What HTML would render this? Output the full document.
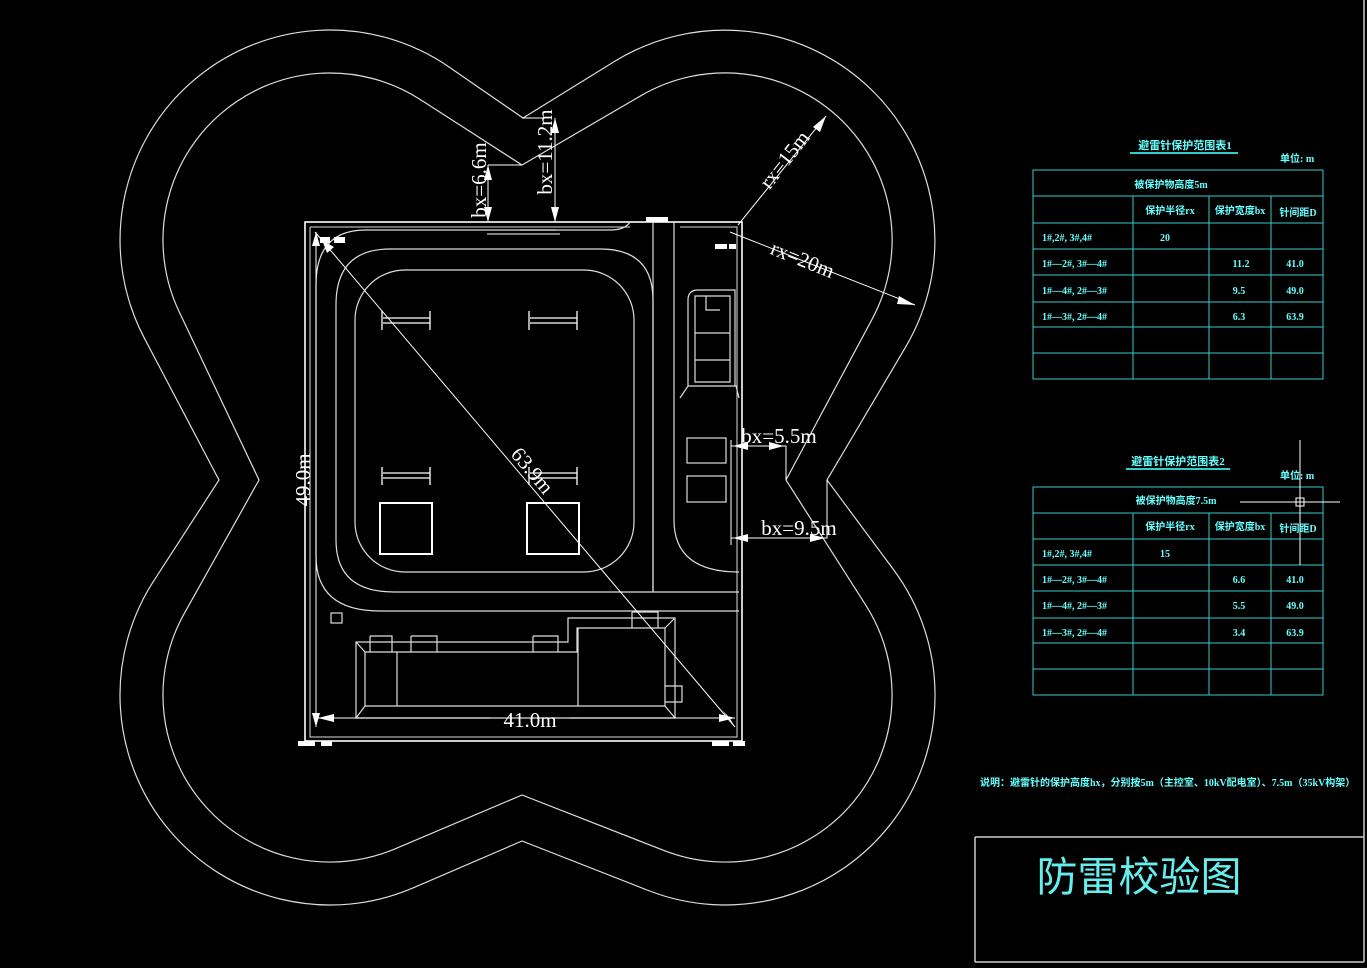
<!DOCTYPE html>
<html><head><meta charset="utf-8">
<style>
html,body{margin:0;padding:0;background:#000;}
body{width:1367px;height:968px;overflow:hidden;position:relative;}
svg{position:absolute;left:0;top:0;}
.d{font-family:"Liberation Serif",serif;fill:#fff;font-size:21px;}
.c{font-family:"Liberation Serif","Noto Sans CJK SC",sans-serif;fill:#6ff;font-size:10px;font-weight:bold;}
</style></head><body>
<svg width="1367" height="968" viewBox="0 0 1367 968" xmlns="http://www.w3.org/2000/svg">
<g fill="none" stroke="#ddd" stroke-width="1.2">
<path id="outer"/><path id="inner"/>
<!-- fence -->
<rect x="305" y="222" width="437" height="519" stroke="#fff" stroke-width="1.6"/>
<path d="M310 227 H630 M680 227 H737 V737 H310 V227" stroke-width="1"/>
<!-- roads -->
<path d="M630 222 Q625 230 610 230 L366 230 Q316 230 316 285 L316 556 Q316 611 380 611 L739 611"/>
<path d="M653 592 L653 300 Q653 249 600 249 L390 249 Q336 249 336 305 L336 540 Q336 592 394 592 L739 592"/>
<rect x="355" y="270" width="279" height="302" rx="50"/>
<path d="M653 222 V592 M674 222 V520 Q674 572 739 572"/>
<!-- bus frames -->
<g stroke="#fff" stroke-width="1.3">
<path d="M382 311 V330 M430 311 V330 M383 318 H430 M383 323 H430"/>
<path d="M529 311 V330 M577 311 V330 M530 318 H577 M530 323 H577"/>
<path d="M382 467 V485 M430 467 V485 M383 473 H430 M383 478 H430"/>
<path d="M529 467 V485 M577 467 V485 M530 473 H577 M530 478 H577"/>
<rect x="380" y="503" width="52" height="51" stroke-width="2"/>
<rect x="527" y="503" width="52" height="51" stroke-width="2"/>
</g>
<rect x="331" y="613" width="11" height="10"/>
<!-- building -->
<path d="M356 642 L568 642 L568 618 L675 618 L675 718 L356 718 Z"/>
<path d="M365 652 L577 652 L577 628 L665 628 L665 706 L365 706 Z"/>
<path d="M356 642 L365 652 M675 618 L665 628 M675 718 L665 706 M356 718 L365 706 M397 652 V706 M578 628 V706"/>
<path d="M370 636 H392 V652 M370 636 V652 M411 636 H437 V652 M411 636 V652 M533 636 H558 V652 M533 636 V652 M632 612 H658 V628 M632 612 V628 M665 686 H682 V702 H665"/>
<!-- control building -->
<path d="M680 398 L688 386 L736 386 L739 398 M688 386 V300 Q688 290 698 290 L735 290 V386 M695 296 H730 V382 H695 Z M695 333 H730 M695 360 H730 M706 296 V310 H720"/>
<rect x="687" y="438" width="39" height="25"/>
<rect x="687" y="476" width="39" height="26"/>
<!-- dimension lines -->
<g stroke="#fff" stroke-width="1">
<path d="M315 232 L735 727"/>
<path d="M316 232 V727 M316 718 H490 M570 718 H735"/>
<path d="M488 165 V222 M488 165 H522 M555 118 V222 M545 118 H522"/>
<path d="M738 225 L826 116 M730 232 L915 305"/>
<path d="M731 446 H786 V480 M731 538 H827 V480 M731 440 V545"/>
<path d="M487 234 H560 M520 230 H556"/>
</g>
</g>
<!-- arrowheads -->
<g fill="#fff">
<polygon points="316,232 312,246 320,246"/><polygon points="316,727 312,713 320,713"/>
<polygon points="318,718 334,714 334,722"/><polygon points="735,718 719,714 719,722"/>
<polygon points="735,727 722,710 729,717"/>
<polygon points="322,240 327,253 334,247"/>
<polygon points="488,165 484,180 492,180"/><polygon points="488,222 484,207 492,207"/>
<polygon points="555,118 551,133 559,133"/><polygon points="555,222 551,207 559,207"/>
<polygon points="826,116 813,127 820,132"/>
<polygon points="915,305 899,296 897,304"/>
<polygon points="733,446 748,442 748,450"/><polygon points="784,446 769,442 769,450"/>
<polygon points="733,538 748,534 748,542"/><polygon points="825,538 810,534 810,542"/>
<rect x="320" y="237" width="10" height="6"/><rect x="334" y="237" width="11" height="6"/>
<rect x="646" y="217" width="22" height="5"/>
<rect x="715" y="244" width="12" height="5"/><rect x="729" y="244" width="7" height="5"/>
<rect x="298" y="741" width="17" height="5"/><rect x="321" y="741" width="11" height="5"/>
<rect x="712" y="741" width="17" height="5"/><rect x="733" y="741" width="12" height="5"/>
</g>
<!-- dimension texts -->
<text class="d" x="530" y="727" text-anchor="middle">41.0m</text>
<text class="d" transform="translate(310,480) rotate(-90)" text-anchor="middle">49.0m</text>
<text class="d" transform="translate(527,475) rotate(50)" text-anchor="middle">63.9m</text>
<text class="d" transform="translate(486,180) rotate(-90)" text-anchor="middle">bx=6.6m</text>
<text class="d" transform="translate(552,152) rotate(-90)" text-anchor="middle">bx=11.2m</text>
<text class="d" transform="translate(790,164) rotate(-52)" text-anchor="middle">rx=15m</text>
<text class="d" transform="translate(800,266) rotate(22)" text-anchor="middle">rx=20m</text>
<text class="d" x="779" y="443" text-anchor="middle">bx=5.5m</text>
<text class="d" x="799" y="535" text-anchor="middle">bx=9.5m</text>
<!-- tables -->
<g stroke="#3cc" stroke-width="1" fill="none">
<rect x="1033" y="170" width="290" height="209"/>
<path d="M1033 196 H1323 M1033 223 H1323 M1033 249 H1323 M1033 275 H1323 M1033 302 H1323 M1033 327 H1323 M1033 353 H1323 M1133 196 V379 M1209 196 V379 M1271 196 V379"/>
<path d="M1130 153 H1238" stroke-width="2"/>
<rect x="1033" y="487" width="290" height="208"/>
<path d="M1033 513 H1323 M1033 539 H1323 M1033 565 H1323 M1033 591 H1323 M1033 618 H1323 M1033 643 H1323 M1033 669 H1323 M1133 513 V695 M1209 513 V695 M1271 513 V695"/>
<path d="M1126 469 H1230" stroke-width="2"/>
</g>
<g stroke="#fff" stroke-width="1" fill="none">
<path d="M1300 440 V565 M1240 502 H1340"/><rect x="1296" y="498" width="8" height="8"/>
</g>
<g class="c">
<text x="1185" y="149" text-anchor="middle" font-size="11">避雷针保护范围表1</text>
<text x="1280" y="162">单位: m</text>
<text x="1171" y="188" text-anchor="middle">被保护物高度5m</text>
<text x="1170" y="214" text-anchor="middle">保护半径rx</text>
<text x="1240" y="214" text-anchor="middle">保护宽度bx</text>
<text x="1298" y="216" text-anchor="middle">针间距D</text>
<text x="1042" y="241">1#,2#, 3#,4#</text><text x="1165" y="241" text-anchor="middle">20</text>
<text x="1042" y="267">1#—2#, 3#—4#</text><text x="1241" y="267" text-anchor="middle">11.2</text><text x="1295" y="267" text-anchor="middle">41.0</text>
<text x="1042" y="294">1#—4#, 2#—3#</text><text x="1239" y="294" text-anchor="middle">9.5</text><text x="1295" y="294" text-anchor="middle">49.0</text>
<text x="1042" y="320">1#—3#, 2#—4#</text><text x="1239" y="320" text-anchor="middle">6.3</text><text x="1295" y="320" text-anchor="middle">63.9</text>
<text x="1178" y="465" text-anchor="middle" font-size="11">避雷针保护范围表2</text>
<text x="1280" y="479">单位: m</text>
<text x="1176" y="504" text-anchor="middle">被保护物高度7.5m</text>
<text x="1170" y="530" text-anchor="middle">保护半径rx</text>
<text x="1240" y="530" text-anchor="middle">保护宽度bx</text>
<text x="1298" y="532" text-anchor="middle">针间距D</text>
<text x="1042" y="557">1#,2#, 3#,4#</text><text x="1165" y="557" text-anchor="middle">15</text>
<text x="1042" y="583">1#—2#, 3#—4#</text><text x="1239" y="583" text-anchor="middle">6.6</text><text x="1295" y="583" text-anchor="middle">41.0</text>
<text x="1042" y="609">1#—4#, 2#—3#</text><text x="1239" y="609" text-anchor="middle">5.5</text><text x="1295" y="609" text-anchor="middle">49.0</text>
<text x="1042" y="636">1#—3#, 2#—4#</text><text x="1239" y="636" text-anchor="middle">3.4</text><text x="1295" y="636" text-anchor="middle">63.9</text>
<text x="980" y="786">说明：避雷针的保护高度hx，分别按5m（主控室、10kV配电室）、7.5m（35kV构架）</text>
</g>
<!-- title block -->
<path d="M1364 0 V962 M975 962 H1364 M975 837 H1364 M975 837 V962" stroke="#ccc" stroke-width="1.5" fill="none"/>
<text x="1139" y="891" text-anchor="middle" font-family="'Noto Sans CJK SC',sans-serif" font-size="41" fill="#6ee">防雷校验图</text>
</svg>
<script>
function build(N,C,r){
 function th(P,c,into){const dx=P[0]-c[0],dy=P[1]-c[1],d=Math.hypot(dx,dy),b=Math.atan2(dy,dx),o=Math.acos(Math.min(1,r/d));
  for(const t of [b+o,b-o]){const T=[c[0]+r*Math.cos(t),c[1]+r*Math.sin(t)];const v=into?[T[0]-P[0],T[1]-P[1]]:[P[0]-T[0],P[1]-T[1]];
   if(v[0]*(-Math.sin(t))+v[1]*Math.cos(t)>0)return t;}return b;}
 let d="M"+N[0][0]+" "+N[0][1];
 for(let i=0;i<4;i++){const c=C[i],a=N[i],b=N[(i+1)%4];let t1=th(a,c,true),t2=th(b,c,false);
  let span=t2-t1;while(span<0)span+=2*Math.PI;while(span>2*Math.PI)span-=2*Math.PI;
  const p1=[c[0]+r*Math.cos(t1),c[1]+r*Math.sin(t1)],p2=[c[0]+r*Math.cos(t2),c[1]+r*Math.sin(t2)];
  d+=" L"+p1[0].toFixed(1)+" "+p1[1].toFixed(1)+" A"+r+" "+r+" 0 "+(span>Math.PI?1:0)+" 1 "+p2[0].toFixed(1)+" "+p2[1].toFixed(1)+" L"+b[0]+" "+b[1];}
 return d+"Z";}
const C=[[725,240],[725,695],[330,695],[330,240]];
document.getElementById("outer").setAttribute("d",build([[523,118],[827,480],[522,841],[219,480]],C,210));
document.getElementById("inner").setAttribute("d",build([[522,165],[786,480],[522,795],[259,480]],C,167));
</script>
</body></html>
